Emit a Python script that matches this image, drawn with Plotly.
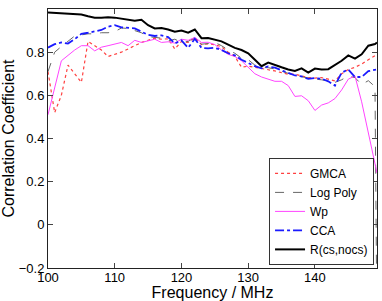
import plotly.graph_objects as go

freq = [100, 101, 102, 103, 104, 105, 106, 107, 108, 109,
        110, 111, 112, 113, 114, 115, 116, 117, 118, 119,
        120, 121, 122, 123, 124, 125, 126, 127, 128, 129,
        130, 131, 132, 133, 134, 135, 136, 137, 138, 139,
        140, 141, 142, 143, 144, 145, 146, 147, 148, 149, 149.3]

gmca = [0.71, 0.52, 0.60, 0.74, 0.70, 0.66, 0.85, 0.83, 0.81, 0.78,
        0.79, 0.80, 0.815, 0.83, 0.845, 0.855, 0.865, 0.86, 0.862, 0.815,
        0.85, 0.845, 0.868, 0.835, 0.838, 0.835, 0.825, 0.80, 0.78, 0.73,
        0.735, 0.73, 0.725, 0.72, 0.713, 0.705, 0.698, 0.698, 0.69, 0.682,
        0.68, 0.682, 0.675, 0.667, 0.70, 0.72, 0.73, 0.745, 0.765, 0.785, 0.79]

log_poly = [0.71, 0.80, 0.826, 0.85, 0.875, 0.88, 0.885, 0.885, 0.89, 0.89,
            0.895, 0.912, 0.91, 0.90, 0.89, 0.872, 0.868, 0.865, 0.852, 0.86,
            0.845, 0.85, 0.868, 0.837, 0.84, 0.845, 0.83, 0.81, 0.795, 0.772,
            0.765, 0.74, 0.729, 0.728, 0.722, 0.712, 0.703, 0.692, 0.686, 0.68,
            0.675, 0.672, 0.665, 0.66, 0.672, 0.69, 0.682, 0.65, 0.668, 0.64, -0.5]

wp = [0.51, 0.63, 0.76, 0.785, 0.81, 0.83, 0.83, 0.806, 0.823, 0.83,
      0.837, 0.845, 0.83, 0.855, 0.845, 0.852, 0.86, 0.845, 0.848, 0.842,
      0.86, 0.855, 0.868, 0.845, 0.846, 0.835, 0.81, 0.79, 0.78, 0.76,
      0.73, 0.70, 0.685, 0.674, 0.665, 0.665, 0.645, 0.595, 0.598, 0.575,
      0.53, 0.555, 0.565, 0.585, 0.625, 0.675, 0.69, 0.57, 0.43, 0.29, 0.24]

cca = [0.821, 0.837, 0.845, 0.84, 0.86, 0.885, 0.89, 0.895, 0.903, 0.918,
       0.925, 0.915, 0.913, 0.91, 0.895, 0.88, 0.875, 0.878, 0.87, 0.84,
       0.855, 0.82, 0.862, 0.82, 0.818, 0.82, 0.81, 0.795, 0.785, 0.765,
       0.75, 0.735, 0.725, 0.734, 0.728, 0.715, 0.703, 0.692, 0.688, 0.676,
       0.68, 0.677, 0.665, 0.645, 0.705, 0.72, 0.685, 0.685, 0.712, 0.72, 0.72]

r_cs_nocs = [0.984, 0.982, 0.980, 0.978, 0.976, 0.974, 0.966, 0.960, 0.960, 0.962,
             0.960, 0.955, 0.950, 0.946, 0.950, 0.925, 0.910, 0.912, 0.905, 0.895,
             0.900, 0.890, 0.905, 0.865, 0.866, 0.858, 0.850, 0.835, 0.820, 0.810,
             0.795, 0.765, 0.735, 0.752, 0.740, 0.730, 0.720, 0.713, 0.725, 0.705,
             0.724, 0.720, 0.721, 0.740, 0.760, 0.785, 0.770, 0.790, 0.830, 0.838, 0.845]

x_ticks = [100, 110, 120, 130, 140]
y_ticks = [-0.2, 0, 0.2, 0.4, 0.6, 0.8]
y_tick_labels = ["\u22120.2", "0", "0.2", "0.4", "0.6", "0.8"]

FONT = "Liberation Sans, Arial, Helvetica, sans-serif"

fig = go.Figure()
fig.add_trace(go.Scatter(x=freq, y=gmca, name="GMCA", mode="lines",
                         line=dict(color="#ff4040", width=1.2, dash="dot")))
fig.add_trace(go.Scatter(x=freq, y=log_poly, name="Log Poly", mode="lines",
                         line=dict(color="#666666", width=1, dash="dash")))
fig.add_trace(go.Scatter(x=freq, y=wp, name="Wp", mode="lines",
                         line=dict(color="#ff44ff", width=1)))
fig.add_trace(go.Scatter(x=freq, y=cca, name="CCA", mode="lines",
                         line=dict(color="#1a1aff", width=1.8, dash="dashdot")))
fig.add_trace(go.Scatter(x=freq, y=r_cs_nocs, name="R(cs,nocs)", mode="lines",
                         line=dict(color="black", width=2)))

fig.update_layout(
    width=382, height=301,
    margin=dict(l=48, r=5, t=9, b=33),
    paper_bgcolor="white", plot_bgcolor="white",
    font=dict(family=FONT, size=13, color="black"),
    showlegend=True,
    legend=dict(x=0.991, y=0.012, xanchor="right", yanchor="bottom",
                bgcolor="white", bordercolor="#333333", borderwidth=1,
                font=dict(family=FONT, size=12), itemwidth=30,
                tracegroupgap=0),
    xaxis=dict(range=[100, 149.3], tickvals=x_ticks, ticks="inside", ticklen=5,
               ticklabelstandoff=-3,
               showline=True, mirror="ticks", linecolor="#222222", linewidth=1,
               showgrid=False, zeroline=False, automargin=False,
               title=dict(text="Frequency / MHz", standoff=4)),
    yaxis=dict(range=[-0.2, 1.0], tickvals=y_ticks, ticktext=y_tick_labels,
               ticks="inside", ticklen=5,
               showline=True, mirror="ticks", linecolor="#222222", linewidth=1,
               showgrid=False, zeroline=False, automargin=False,
               title=dict(text="Correlation Coefficient", standoff=0)),
)

fig.write_html("out.html",
               config={"displayModeBar": False},
               post_script="document.body.style.margin='0';document.body.style.padding='0';")
